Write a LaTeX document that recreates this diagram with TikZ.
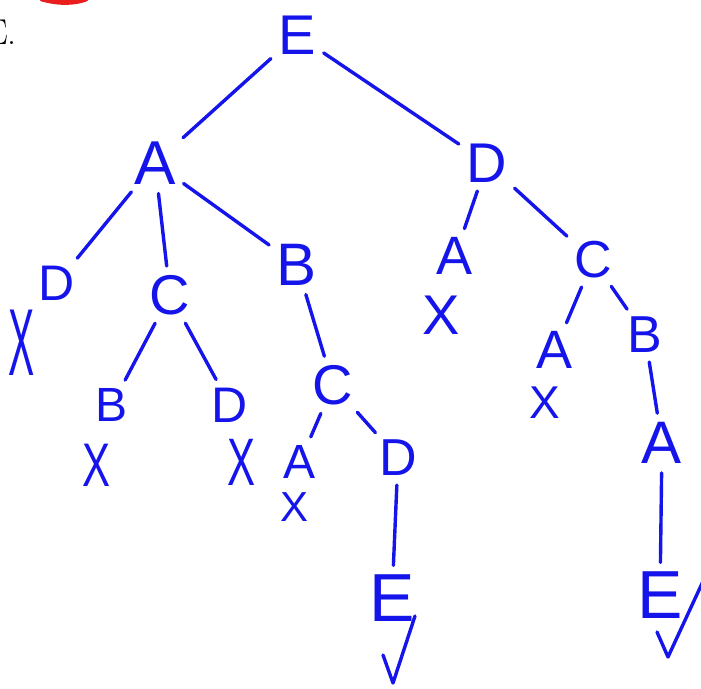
\documentclass[tikz,border=0pt]{standalone}
\usepackage{fontspec}
\newfontfamily\hand{Liberation Sans}
\definecolor{ink}{RGB}{20,20,235}
\definecolor{redink}{RGB}{235,30,30}
\begin{document}
\begin{tikzpicture}[x=1pt,y=-1pt,
  lbl/.style={text=ink, font=\hand\fontsize{#1}{#1}\selectfont, inner sep=2pt},
  lbl/.default=56,
  br/.style={draw=ink, line width=3.4pt, line cap=round, line join=round, shorten <=7pt, shorten >=7pt},
  chk/.style={draw=ink, line width=3.4pt, line cap=round, line join=round}]
\useasboundingbox (0,0) rectangle (701,688);
% cut-off heading and red mark
\node[anchor=base east, inner sep=0pt, font=\fontsize{36}{36}\selectfont] (hd) at (17,44) {E.};
\draw[redink, line width=5pt, line cap=round] (42,-1) .. controls (60,4) and (75,3) .. (86,-1);
% tree nodes
\node[lbl=56] (E) at (297,35) {E};
\node[lbl=62] (A) at (155,163) {A};
\node[lbl=56] (D) at (487,163) {D};
\node[lbl=50] (D1) at (57,283) {D};
\node[lbl=56] (C1) at (170,295) {C};
\node[lbl=60] (B1) at (297,265) {B};
\node[lbl=54] (A2) at (455,256) {A};
\node[lbl=52] (C2) at (593,260) {C};
\node[lbl=56] (X1) at (22,343) {\scalebox{0.7}[1.7]{X}};
\node[lbl=48] (B3) at (112,405) {B};
\node[lbl=50] (D3) at (230,405) {D};
\node[lbl=56] (C3) at (333,385) {C};
\node[lbl=56] (X2) at (441,315) {X};
\node[lbl=54] (A4) at (555,350) {A};
\node[lbl=52] (B4) at (645,335) {B};
\node[lbl=56] (X3) at (97,465) {\scalebox{0.75}[1.1]{X}};
\node[lbl=56] (X4) at (242,462) {\scalebox{0.75}[1.2]{X}};
\node[lbl=48] (A5) at (300,462) {A};
\node[lbl=52] (D5) at (398,458) {D};
\node[lbl=42] (X5) at (295,507) {X};
\node[lbl=46] (X6) at (545,403) {X};
\node[lbl=60] (A6) at (662,443) {A};
\node[lbl=68] (E7) at (392,598) {E};
\node[lbl=68] (E8) at (660,595) {E};
% branches
\draw[br] (E) -- (A);
\draw[br] (E) -- (D);
\draw[br] (A) -- (D1);
\draw[br] (A) -- (C1);
\draw[br] (A) -- (B1);
\draw[br] (D) -- (A2);
\draw[br] (D) -- (C2);
\draw[br] (C1) -- (B3);
\draw[br] (C1) -- (D3);
\draw[br] (B1) -- (C3);
\draw[br] (C3) -- (A5);
\draw[br] (C3) -- (D5);
\draw[br] (D5) -- (E7);
\draw[br] (C2) -- (A4);
\draw[br] (C2) -- (B4);
\draw[br] (B4) -- (A6);
\draw[br] (A6) -- (E8);
% check marks
\draw[chk] ([shift={(-9,57)}]E7.center) -- ([shift={(1,85)}]E7.center) -- ([shift={(23,18)}]E7.center);
\draw[chk] ([shift={(-3,37)}]E8.center) -- ([shift={(8,62)}]E8.center) -- ([shift={(45,-18)}]E8.center);
\end{tikzpicture}
\end{document}
